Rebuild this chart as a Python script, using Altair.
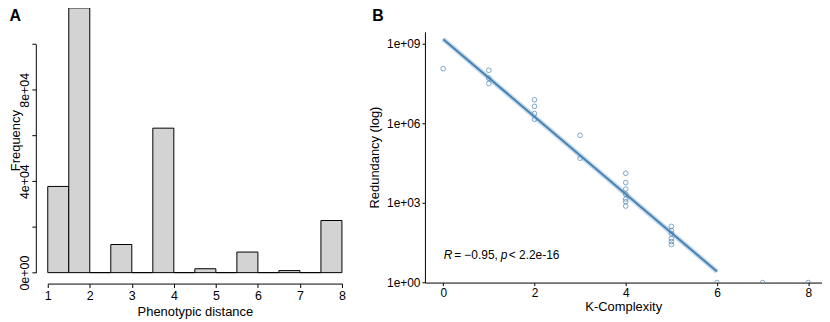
import altair as alt
import pandas as pd

# ---------------- Panel A: histogram of phenotypic distance ----------------
bin_start = [1.0, 1.5, 2.0, 2.5, 3.0, 3.5, 4.0, 4.5, 5.0, 5.5, 6.0, 6.5, 7.0, 7.5]
bin_end = [1.5, 2.0, 2.5, 3.0, 3.5, 4.0, 4.5, 5.0, 5.5, 6.0, 6.5, 7.0, 7.5, 8.0]
frequency = [37700, 115800, 0, 12300, 0, 63200, 0, 1700, 0, 9000, 0, 900, 0, 22800]
freq_ticks = [0, 20000, 40000, 60000, 80000, 100000]
dist_ticks = [1, 2, 3, 4, 5, 6, 7, 8]

# ---------------- Panel B: redundancy vs K-complexity ----------------
k_complexity = [0, 1, 1, 1, 2, 2, 2, 2, 3, 3, 4, 4, 4, 4, 4, 4, 4, 5, 5, 5, 5, 5, 5, 6, 7, 8]
redundancy = [112000000, 98000000, 49000000, 31000000,
              7600000, 4300000, 2300000, 1400000,
              350000, 48000,
              13000, 5800, 3300, 2100, 1400, 1100, 760,
              130, 91, 68, 45, 35, 27,
              1, 0, 0]
k_ticks = [0, 2, 4, 6, 8]
red_ticks = [1, 1000, 1000000, 1000000000]
annot_k = [0]
annot_r = [10.5]
panel_letters = ["A", "B"]

FONT = "Liberation Sans"
BLUE = "#4682B4"

hist_df = pd.DataFrame({"start": bin_start, "end": bin_end, "freq": frequency})
scat_df = pd.DataFrame({"k": k_complexity, "redundancy": redundancy})
annot_df = pd.DataFrame({"k": annot_k, "r": annot_r})


def letter(text, dx):
    return alt.Chart(pd.DataFrame({"label": [text]})).mark_text(
        align="left", baseline="alphabetic", fontSize=16, fontWeight="bold",
        font=FONT, color="black"
    ).encode(text="label:N", x=alt.value(dx), y=alt.value(-11))


# ---------- Panel A ----------
xA = alt.X("start:Q",
           scale=alt.Scale(domain=[1, 8], nice=False, zero=False),
           axis=alt.Axis(values=dist_ticks, offset=11, tickSize=4, labelPadding=2,
                         labelFontSize=12.5, labelFlush=False, labelOverlap=False,
                         title="Phenotypic distance", titleFontSize=13,
                         titleBaseline="middle", titleY=28.5))
yA = alt.Y("freq:Q",
           scale=alt.Scale(domain=[0, 100000], range=[242.3, 12.3], nice=False),
           axis=alt.Axis(values=freq_ticks, offset=12, tickSize=4, labelPadding=0,
                         labelAngle=270, labelAlign="center", labelBaseline="bottom",
                         labelFontSize=12.5, labelOverlap=False, labelFlush=False,
                         labelExpr="datum.value == 0 ? '0e+00' : (datum.value % 40000 == 0 ? format(datum.value / 10000, 'd') + 'e+04' : '')",
                         title="Frequency", titleFontSize=13, titleAngle=270,
                         titleBaseline="middle", titleX=-20.5, titleY=109))

barsA = alt.Chart(hist_df).mark_bar(fill="#D3D3D3", stroke="black", strokeWidth=1).encode(
    x=xA, x2="end:Q", y=yA, y2=alt.Y2Datum(0)
)

panelA = alt.layer(barsA, letter(panel_letters[0], -38.5)).properties(width=296, height=242.3)

# ---------- Panel B ----------
xscaleB = alt.Scale(domain=[-0.4, 8.29], nice=False, zero=False)
yscaleB = alt.Scale(type="log", domain=[1, 2.75e9], nice=False)

xB_axis = alt.Axis(values=k_ticks, tickSize=3, labelPadding=2, labelFontSize=12,
                   labelFlush=False, labelOverlap=False,
                   title="K-Complexity", titleFontSize=13, titleBaseline="middle", titleY=24.5)
yB_axis = alt.Axis(values=red_ticks, tickSize=3, labelPadding=2, labelFontSize=12,
                   labelFlush=False, labelOverlap=False,
                   labelExpr="'1e+0' + round(log(datum.value) / LN10)",
                   title="Redundancy (log)", titleFontSize=13, titleAngle=270,
                   titleBaseline="middle", titleX=-51, titleY=126)

baseB = alt.Chart(scat_df)

fit = baseB.transform_filter("datum.redundancy > 0").transform_calculate(
    logr="log(datum.redundancy) / LN10"
).transform_regression("k", "logr", method="linear").transform_calculate(
    fit="pow(10, datum.logr)"
)

band = fit.mark_line(color=BLUE, strokeWidth=5, opacity=0.3).encode(
    x=alt.X("k:Q", scale=xscaleB, axis=xB_axis),
    y=alt.Y("fit:Q", scale=yscaleB, axis=yB_axis),
)
line = fit.mark_line(color=BLUE, strokeWidth=2).encode(
    x=alt.X("k:Q", scale=xscaleB, axis=xB_axis),
    y=alt.Y("fit:Q", scale=yscaleB, axis=yB_axis),
)
points = baseB.transform_calculate(
    shown="max(datum.redundancy, 1)"
).mark_point(shape="circle", filled=False, color=BLUE, size=22, strokeWidth=1, clip=True).encode(
    x=alt.X("k:Q", scale=xscaleB, axis=xB_axis),
    y=alt.Y("shown:Q", scale=yscaleB, axis=yB_axis),
)


def seg(text, dx, italic=False):
    return alt.Chart(annot_df).mark_text(
        text=text, align="left", baseline="middle", dx=dx, fontSize=12, font=FONT,
        fontStyle="italic" if italic else "normal", color="black"
    ).encode(
        x=alt.X("k:Q", scale=xscaleB, axis=xB_axis),
        y=alt.Y("r:Q", scale=yscaleB, axis=yB_axis),
    )


annot = seg("R", 0.5, True) + seg("= \u22120.95,", 11) + seg("p", 58, True) + seg("< 2.2e-16", 66)

panelB = alt.layer(band, line, points, annot, letter(panel_letters[1], -53)).properties(
    width=399, height=252.3
)

chart = alt.hconcat(panelA, panelB, spacing=22.5).properties(
    padding={"left": 1, "top": -2, "right": 0, "bottom": 0}
).configure_view(
    stroke=None
).configure_axis(
    grid=False, domainColor="black", tickColor="black", labelColor="black",
    titleColor="black", labelFont=FONT, titleFont=FONT, titleFontWeight="normal",
    domainWidth=1, tickWidth=1
)

chart.save("out.html", embed_options={"renderer": "svg", "actions": False})
